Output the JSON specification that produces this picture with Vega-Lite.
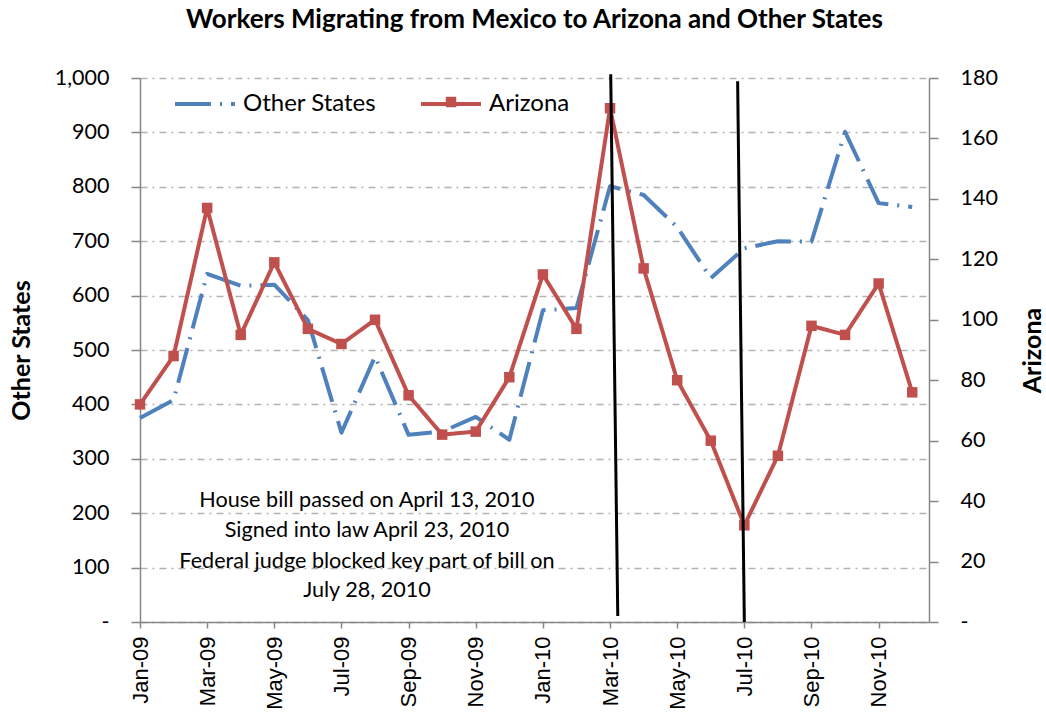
{
  "$schema": "https://vega.github.io/schema/vega-lite/v6.json",
  "width": 789,
  "height": 544,
  "autosize": {"type": "none"},
  "padding": {"left": 140, "top": 78, "right": 117, "bottom": 97},
  "background": "white",
  "title": {
    "text": "Workers Migrating from Mexico to Arizona and Other States",
    "font": "Lato",
    "fontSize": 26,
    "fontWeight": "bold",
    "color": "black",
    "anchor": "middle",
    "offset": 34
  },
  "config": {
    "view": {"stroke": null},
    "font": "Lato",
    "axis": {"domainColor": "#868686", "tickColor": "#868686", "domainWidth": 1.5, "tickWidth": 1.5, "labelColor": "black", "titleColor": "black"}
  },
  "datasets": {
    "main": [
      {"month": "Jan-09", "i": 0, "series": "Other States", "value": 375},
      {"month": "Feb-09", "i": 1, "series": "Other States", "value": 408},
      {"month": "Mar-09", "i": 2, "series": "Other States", "value": 640},
      {"month": "Apr-09", "i": 3, "series": "Other States", "value": 618},
      {"month": "May-09", "i": 4, "series": "Other States", "value": 620},
      {"month": "Jun-09", "i": 5, "series": "Other States", "value": 555},
      {"month": "Jul-09", "i": 6, "series": "Other States", "value": 348},
      {"month": "Aug-09", "i": 7, "series": "Other States", "value": 488},
      {"month": "Sep-09", "i": 8, "series": "Other States", "value": 344},
      {"month": "Oct-09", "i": 9, "series": "Other States", "value": 350},
      {"month": "Nov-09", "i": 10, "series": "Other States", "value": 377},
      {"month": "Dec-09", "i": 11, "series": "Other States", "value": 335},
      {"month": "Jan-10", "i": 12, "series": "Other States", "value": 573},
      {"month": "Feb-10", "i": 13, "series": "Other States", "value": 577},
      {"month": "Mar-10", "i": 14, "series": "Other States", "value": 801},
      {"month": "Apr-10", "i": 15, "series": "Other States", "value": 785},
      {"month": "May-10", "i": 16, "series": "Other States", "value": 726},
      {"month": "Jun-10", "i": 17, "series": "Other States", "value": 632},
      {"month": "Jul-10", "i": 18, "series": "Other States", "value": 687},
      {"month": "Aug-10", "i": 19, "series": "Other States", "value": 700},
      {"month": "Sep-10", "i": 20, "series": "Other States", "value": 699},
      {"month": "Oct-10", "i": 21, "series": "Other States", "value": 901},
      {"month": "Nov-10", "i": 22, "series": "Other States", "value": 770},
      {"month": "Dec-10", "i": 23, "series": "Other States", "value": 763},
      {"month": "Jan-09", "i": 0, "series": "Arizona", "value": 72},
      {"month": "Feb-09", "i": 1, "series": "Arizona", "value": 88},
      {"month": "Mar-09", "i": 2, "series": "Arizona", "value": 137},
      {"month": "Apr-09", "i": 3, "series": "Arizona", "value": 95},
      {"month": "May-09", "i": 4, "series": "Arizona", "value": 119},
      {"month": "Jun-09", "i": 5, "series": "Arizona", "value": 97},
      {"month": "Jul-09", "i": 6, "series": "Arizona", "value": 92},
      {"month": "Aug-09", "i": 7, "series": "Arizona", "value": 100},
      {"month": "Sep-09", "i": 8, "series": "Arizona", "value": 75},
      {"month": "Oct-09", "i": 9, "series": "Arizona", "value": 62},
      {"month": "Nov-09", "i": 10, "series": "Arizona", "value": 63},
      {"month": "Dec-09", "i": 11, "series": "Arizona", "value": 81},
      {"month": "Jan-10", "i": 12, "series": "Arizona", "value": 115},
      {"month": "Feb-10", "i": 13, "series": "Arizona", "value": 97},
      {"month": "Mar-10", "i": 14, "series": "Arizona", "value": 170},
      {"month": "Apr-10", "i": 15, "series": "Arizona", "value": 117},
      {"month": "May-10", "i": 16, "series": "Arizona", "value": 80},
      {"month": "Jun-10", "i": 17, "series": "Arizona", "value": 60},
      {"month": "Jul-10", "i": 18, "series": "Arizona", "value": 32},
      {"month": "Aug-10", "i": 19, "series": "Arizona", "value": 55},
      {"month": "Sep-10", "i": 20, "series": "Arizona", "value": 98},
      {"month": "Oct-10", "i": 21, "series": "Arizona", "value": 95},
      {"month": "Nov-10", "i": 22, "series": "Arizona", "value": 112},
      {"month": "Dec-10", "i": 23, "series": "Arizona", "value": 76}
    ],
    "events": [
      {"event": "Bill passed / signed", "i": 14.02, "i2": 14.23, "top": 1007, "bottom": 11},
      {"event": "Judge blocked", "i": 17.8, "i2": 18.0, "top": 994, "bottom": 0}
    ],
    "notes": [
      {"i": 6.76, "v": 222, "t": "House bill passed on April 13, 2010"},
      {"i": 6.76, "v": 168, "t": "Signed into law April 23, 2010"},
      {"i": 6.76, "v": 110, "t": "Federal judge blocked key part of bill on"},
      {"i": 6.76, "v": 57, "t": "July 28, 2010"}
    ]
  },
  "layer": [
    {
      "layer": [
        {
          "data": {"name": "main"},
          "transform": [{"filter": "datum.series === 'Other States'"}],
          "mark": {"type": "line", "strokeWidth": 4, "strokeCap": "butt", "strokeJoin": "round"},
          "encoding": {
            "x": {
              "field": "i", "type": "quantitative",
              "scale": {"domain": [0, 23.5], "nice": false, "zero": false},
              "axis": {
                "title": null,
                "values": [0, 2, 4, 6, 8, 10, 12, 14, 16, 18, 20, 22],
                "labelExpr": "['Jan-09','Feb-09','Mar-09','Apr-09','May-09','Jun-09','Jul-09','Aug-09','Sep-09','Oct-09','Nov-09','Dec-09','Jan-10','Feb-10','Mar-10','Apr-10','May-10','Jun-10','Jul-10','Aug-10','Sep-10','Oct-10','Nov-10','Dec-10'][datum.value]",
                "labelAngle": -90, "labelAlign": "right", "labelBaseline": "middle",
                "labelFont": "Liberation Sans", "labelFontSize": 22,
                "labelPadding": 8, "tickSize": 6, "grid": false, "labelFlush": false, "labelOverlap": false
              }
            },
            "y": {
              "field": "value", "type": "quantitative",
              "scale": {"domain": [0, 1000], "nice": false},
              "axis": {
                "title": "Other States", "titleFont": "Lato", "titleFontSize": 25, "titleFontWeight": "bold", "titlePadding": 20,
                "values": [0, 100, 200, 300, 400, 500, 600, 700, 800, 900, 1000],
                "labelExpr": "datum.value == 0 ? '-' : format(datum.value, ',')",
                "labelFont": "Lato", "labelFontSize": 21.5, "labelPadding": 22, "tickSize": 9,
                "grid": true, "gridColor": "#B3B3B3", "gridDash": [7, 5, 2, 5], "gridWidth": 1.3
              }
            },
            "color": {
              "field": "series", "type": "nominal",
              "scale": {"domain": ["Other States", "Arizona"], "range": ["#4F81BD", "#C0504D"]},
              "legend": {
                "orient": "none", "direction": "horizontal", "legendX": 33, "legendY": -6,
                "title": null, "symbolType": "stroke", "symbolSize": 3600, "symbolStrokeWidth": 4,
                "labelFont": "Lato", "labelFontSize": 24, "labelColor": "black", "labelOffset": 6,
                "columnPadding": 36, "padding": 0
              }
            },
            "strokeDash": {
              "field": "series", "type": "nominal",
              "scale": {"domain": ["Other States", "Arizona"], "range": [[36, 9, 2, 9], [1, 0]]},
              "legend": {
                "orient": "none", "direction": "horizontal", "legendX": 33, "legendY": -6,
                "title": null, "symbolType": "stroke", "symbolSize": 3600, "symbolStrokeWidth": 4,
                "labelFont": "Lato", "labelFontSize": 24, "labelColor": "black", "labelOffset": 6,
                "columnPadding": 36, "padding": 0
              }
            }
          }
        },
        {
          "data": {"name": "notes"},
          "mark": {"type": "text", "font": "Lato", "fontSize": 21.6, "color": "black", "align": "center", "baseline": "middle"},
          "encoding": {
            "x": {"field": "i", "type": "quantitative"},
            "y": {"field": "v", "type": "quantitative"},
            "text": {"field": "t"}
          }
        }
      ]
    },
    {
      "layer": [
        {
          "data": {"name": "main"},
          "transform": [{"filter": "datum.series === 'Arizona'"}],
          "mark": {"type": "line", "strokeWidth": 4, "strokeJoin": "round"},
          "encoding": {
            "x": {"field": "i", "type": "quantitative"},
            "y": {
              "field": "value", "type": "quantitative",
              "scale": {"domain": [0, 180], "nice": false},
              "axis": {
                "orient": "right",
                "title": "Arizona", "titleFont": "Lato", "titleFontSize": 25, "titleFontWeight": "bold", "titleAngle": -90, "titlePadding": 48,
                "values": [0, 20, 40, 60, 80, 100, 120, 140, 160, 180],
                "labelExpr": "datum.value == 0 ? '-' : format(datum.value, ',')",
                "labelFont": "Lato", "labelFontSize": 21.5, "labelPadding": 22, "tickSize": 9, "grid": false
              }
            },
            "color": {"field": "series", "type": "nominal"},
            "strokeDash": {"field": "series", "type": "nominal"}
          }
        },
        {
          "data": {"name": "main"},
          "transform": [{"filter": "datum.series === 'Arizona'"}, {"calculate": "datum.series", "as": "marker"}],
          "mark": {"type": "point", "filled": true, "size": 110, "color": "#C0504D", "opacity": 1},
          "encoding": {
            "x": {"field": "i", "type": "quantitative"},
            "y": {"field": "value", "type": "quantitative"},
            "shape": {
              "field": "marker", "type": "nominal",
              "scale": {"range": ["square"]},
              "legend": {
                "orient": "none", "legendX": 305, "legendY": 18, "title": null,
                "symbolSize": 110, "symbolFillColor": "#C0504D", "symbolStrokeColor": "#C0504D",
                "labelExpr": "''", "labelFontSize": 1, "padding": 0
              }
            }
          }
        }
      ]
    },
    {
      "data": {"name": "events"},
      "mark": {"type": "rule", "color": "black", "strokeWidth": 3},
      "encoding": {
        "x": {"field": "i", "type": "quantitative"},
        "x2": {"field": "i2"},
        "y": {"field": "top", "type": "quantitative", "scale": {"domain": [0, 1000], "nice": false}, "axis": null},
        "y2": {"field": "bottom"}
      }
    }
  ],
  "resolve": {"scale": {"y": "independent"}}
}
